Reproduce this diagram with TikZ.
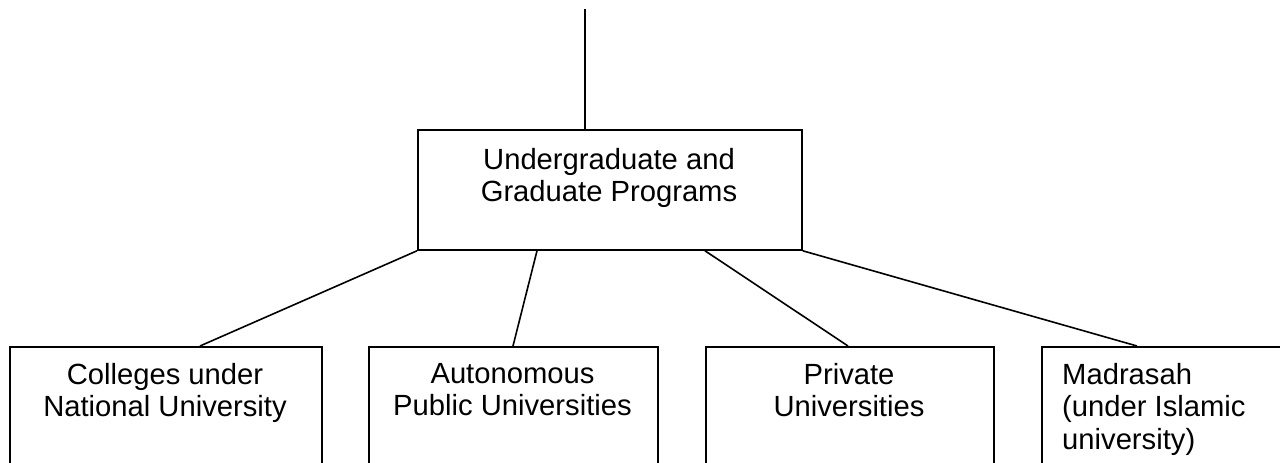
\documentclass[tikz,border=0pt]{standalone}
\usepackage{fontspec}
\setmainfont{Liberation Sans}
\begin{document}
\begin{tikzpicture}[x=1pt,y=-1pt,
  box/.style={draw, line width=1.8pt, inner sep=0pt, rectangle, anchor=north west},
  lbl/.style={font=\fontsize{29.2}{32.5}\selectfont, inner sep=0pt, align=center, anchor=north},
  link/.style={line width=1.6pt}]
\useasboundingbox (0,0) rectangle (1280,463);
\clip (0,0) rectangle (1280,463);
\fill[white] (0,0) rectangle (1280,463);
\coordinate (top) at (585,9);
\node[box, minimum width=384pt, minimum height=120pt] (main) at (417,129) {};
\node[box, minimum width=312pt, minimum height=150pt] (b1) at (9,346) {};
\node[box, minimum width=289pt, minimum height=150pt] (b2) at (368,346) {};
\node[box, minimum width=288pt, minimum height=150pt] (b3) at (705,346) {};
\node[box, minimum width=260pt, minimum height=150pt] (b4) at (1041,346) {};
\node[lbl] (t0) at (609,148) {Undergraduate and\\Graduate Programs};
\node[lbl] (t1) at (165,363) {Colleges under\\National University};
\node[lbl] (t2) at (512.5,363) {Autonomous\\Public Universities};
\node[lbl] (t3) at (849,363) {Private\\Universities};
\node[lbl, align=left, anchor=north west] (t4) at (1062,363) {Madrasah\\(under Islamic\\university)};
\draw[link] (top) -- ([xshift=168pt]main.north west);
\draw[link] (main.south west) -- ([xshift=191pt]b1.north west);
\draw[link] ([xshift=120pt]main.south west) -- ([xshift=145pt]b2.north west);
\draw[link] ([xshift=288pt]main.south west) -- ([xshift=143pt]b3.north west);
\draw[link] (main.south east) -- ([xshift=96pt]b4.north west);
\end{tikzpicture}
\end{document}
